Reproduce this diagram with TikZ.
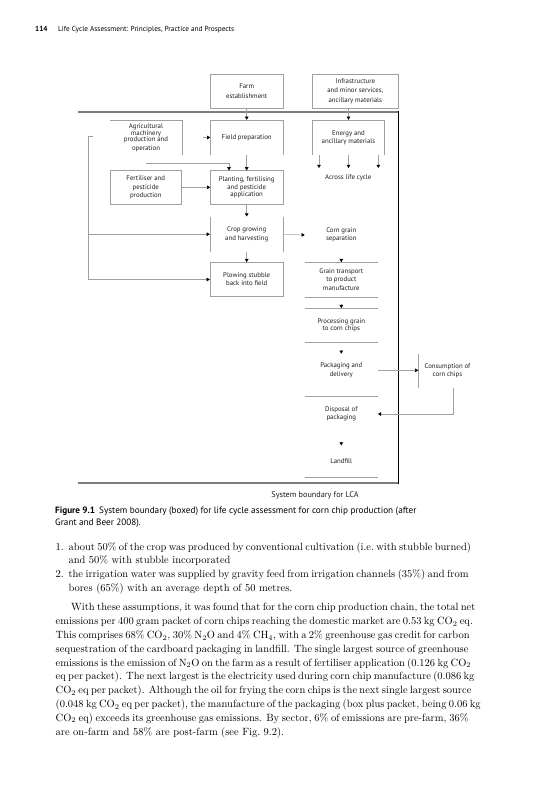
\documentclass[tikz,border=0pt]{standalone}
\usepackage{fontspec}
\newfontfamily\dsans{PT Sans}
\usetikzlibrary{arrows.meta,calc}
\definecolor{lgray}{RGB}{160,160,160}
\definecolor{bgray}{RGB}{125,125,125}
\definecolor{tgray}{RGB}{30,30,30}
\newcommand{\COtwo}{CO\textsubscript{2}}
\begin{document}
\begin{tikzpicture}[x=1pt,y=-1pt,
  lbl/.style={font=\dsans\fontsize{6.8}{8.2}\selectfont, text=tgray, align=center, inner sep=0pt},
  frame/.style={draw=lgray, line width=0.5pt},
  conn/.style={draw=lgray, line width=0.5pt},
  arr/.style={conn, -{Triangle[length=3.2pt,width=3.6pt,color=black,fill=black]}},
  hdr/.style={anchor=base west, inner sep=0pt, font=\dsans\fontsize{7.3}{9}\selectfont},
  capt/.style={anchor=base west, inner sep=0pt, font=\dsans\fontsize{9.2}{12}\selectfont},
  bodyl/.style={anchor=base west, inner sep=0pt, font=\fontsize{10.5}{13.8}\selectfont}
]
\fill[white] (0,0) rectangle (548,800);
\useasboundingbox (0,0) rectangle (548,800);

% running head
\node[hdr, font=\dsans\bfseries\fontsize{7.3}{9}\selectfont] (pgno) at (35,31.5) {114};
\node[hdr] (runhead) at (58,31.5) {Life Cycle Assessment: Principles, Practice and Prospects};

% system boundary
\draw[line width=1.8pt, draw=bgray] (78,112.3) -- (398.3,112.3);
\draw[line width=1.8pt, draw=bgray] (78,482.7) -- (398.3,482.7);
\draw[line width=0.8pt, black] (398.3,111.4) -- (398.3,483.6);

% nodes
\node[lbl, frame, minimum width=73.3pt, minimum height=34.3pt, font=\dsans\fontsize{6.8}{10}\selectfont] (farm) at (246.7,91.2) {Farm\\establishment};
\node[lbl, frame, minimum width=86pt, minimum height=34.3pt, font=\dsans\fontsize{6.8}{9.5}\selectfont] (infra) at (355.3,91.2) {Infrastructure\\and minor services,\\ancillary materials};

\node[lbl, minimum width=72pt, minimum height=35pt] (agri) at (146,137.5) {Agricultural\\[-1.2pt]machinery\\[-1.9pt]production and\\[0.5pt]operation};
\draw[frame] (agri.south east) -- (agri.north east) -- (agri.north west);

\node[lbl, minimum width=72.5pt, minimum height=35pt] (field) at (246.7,137.5) {Field preparation};
\draw[frame] (field.south west) -- (field.north west) -- (field.north east) -- (field.south east);

\node[lbl, minimum width=72pt, minimum height=35pt] (energy) at (348.5,137.5) {Energy and\\ancillary materials};
\draw[frame] (energy.south west) -- (energy.north west) -- (energy.north east) -- (energy.south east);

\node[lbl] (across) at (348.3,177.7) {Across life cycle};

\node[lbl, frame, minimum width=71.7pt, minimum height=33.3pt] (fert) at (145.8,187.3) {Fertiliser and\\pesticide\\production};
\node[lbl, frame, minimum width=72.5pt, minimum height=33.3pt, font=\dsans\fontsize{6.8}{6}\selectfont] (plant) at (246.7,187.3) {Planting, fertilising\\and pesticide\\application};

\node[lbl, minimum width=73.3pt, minimum height=35pt] (crop) at (246.7,234.2) {Crop growing\\and harvesting};
\draw[frame] (crop.north west) -- (crop.south west);
\draw[frame] (crop.north east) -- (crop.south east);

\node[lbl, frame, minimum width=73.3pt, minimum height=34.3pt] (plow) at (246.7,279.5) {Plowing stubble\\back into field};

\node[lbl, minimum width=72.7pt, minimum height=30pt] (corn) at (341.3,235) {Corn grain\\separation};
\node[lbl, minimum width=72.7pt, minimum height=34.4pt] (transport) at (341.3,279.5) {Grain transport\\to product\\manufacture};
\draw[frame] (transport.north west) -- (transport.north east);
\draw[frame] (transport.south west) -- (transport.south east);
\node[lbl, minimum width=72.7pt, minimum height=34.2pt, font=\dsans\fontsize{6.8}{7}\selectfont] (process) at (341.3,325.4) {Processing grain\\to corn chips};
\draw[frame] (process.north west) -- (process.north east);
\draw[frame] (process.south west) -- (process.south east);
\node[lbl, minimum width=72.7pt, minimum height=32.7pt] (pack) at (341.3,370.3) {Packaging and\\delivery};
\node[lbl, minimum width=58pt, minimum height=32.7pt] (cons) at (447.5,371) {Consumption of\\corn chips};
\draw[frame] (cons.north west) -- (cons.south west);
\node[lbl, minimum width=72.7pt, minimum height=34.6pt] (disp) at (341.3,414) {Disposal of\\packaging};
\draw[frame] (disp.north west) -- (disp.north east);
\node[lbl, minimum width=72.7pt, minimum height=31.6pt] (land) at (341.3,461.5) {Landfill};
\draw[frame] (land.south west) -- (land.south east);

\node[lbl, font=\dsans\fontsize{8.2}{9}\selectfont, anchor=base] (sysb) at (315,497.5) {System boundary for LCA};

% connectors
\draw[arr] (farm.south) -- (field.north);
\draw[arr] (energy.north |- infra.south) -- (energy.north);
\draw[arr, shorten <=21pt] (agri.east) -- (field.west);
\draw[arr] ($(agri.south)+(0,7.8)$) -| ($(plant.north west)+(18.8,0)$);
\draw[arr] (field.south) -- (plant.north);
\draw[arr] (fert.east) -- (plant.west);
\coordinate (ac1) at (319,168);
\coordinate (ac2) at (348.5,168);
\coordinate (ac3) at (378.3,168);
\draw[arr] (energy.south -| ac1) -- (ac1);
\draw[arr] (energy.south -| ac2) -- (ac2);
\draw[arr] (energy.south -| ac3) -- (ac3);
\draw[arr] (plant.south) -- (crop.north);
\draw[arr] (crop.south) -- (plow.north);
\draw[arr] (crop.east) -- (corn.west);
\draw[arr, shorten <=8.5pt] (corn.south) -- (transport.north);
\draw[arr, shorten <=7.5pt] (transport.south) -- (process.north);
\draw[arr, shorten <=7.5pt] (process.south) -- (pack.north);
\draw[arr] (pack.east) -- (cons.west |- pack.east);
\draw[arr] ($(cons.south)+(5.8,0)$) |- (disp.east);
\draw[arr, shorten <=10pt] (disp.south) -- (land.north);
\coordinate (fb) at (93,136.7);
\coordinate (fbx) at (88.3,136.7);
\draw[arr] (fb) -- (fbx) |- (plow.west);
\draw[arr] (fbx |- crop.west) -- (crop.west);

% caption
\node[capt, font=\dsans\bfseries\fontsize{9.2}{12}\selectfont] (fig) at (55,513.5) {Figure 9.1};
\node[capt] (cap1) at (99,513.5) {System boundary (boxed) for life cycle assessment for corn chip production (after};
\node[capt] (cap2) at (55,525.5) {Grant and Beer 2008).};

% body text
\node[bodyl] (n1) at (55.5,550) {1.};
\node[bodyl] (i1a) at (68.3,550) {\makebox[400pt][s]{about 50\% of the crop was produced by conventional cultivation (i.e.\ with stubble burned)}};
\node[bodyl] (i1b) at (68.3,563.8) {and 50\% with stubble incorporated};
\node[bodyl] (n2) at (55.5,577.6) {2.};
\node[bodyl] (i2a) at (68.3,577.6) {\makebox[400pt][s]{the irrigation water was supplied by gravity feed from irrigation channels (35\%) and from}};
\node[bodyl] (i2b) at (68.3,591.4) {bores (65\%) with an average depth of 50 metres.};

\node[bodyl] (p1) at (71,610.8) {\makebox[397.3pt][s]{With these assumptions, it was found that for the corn chip production chain, the total net}};
\node[bodyl] (p2) at (55.5,624.6) {\makebox[412.8pt][s]{emissions per 400 gram packet of corn chips reaching the domestic market are 0.53 kg \COtwo{} eq.}};
\node[bodyl] (p3) at (55.5,638.4) {\makebox[412.8pt][s]{This comprises 68\% \COtwo, 30\% N\textsubscript{2}O and 4\% CH\textsubscript{4}, with a 2\% greenhouse gas credit for carbon}};
\node[bodyl] (p4) at (55.5,652.2) {\makebox[412.8pt][s]{sequestration of the cardboard packaging in landfill. The single largest source of greenhouse}};
\node[bodyl] (p5) at (55.5,666) {\makebox[412.8pt][s]{emissions is the emission of N\textsubscript{2}O on the farm as a result of fertiliser application (0.126 kg \COtwo}};
\node[bodyl] (p6) at (55.5,679.8) {\makebox[412.8pt][s]{eq per packet). The next largest is the electricity used during corn chip manufacture (0.086 kg}};
\node[bodyl] (p7) at (55.5,693.6) {\makebox[412.8pt][s]{\COtwo{} eq per packet). Although the oil for frying the corn chips is the next single largest source}};
\node[bodyl] (p8) at (55.5,707.4) {\makebox[412.8pt][s]{(0.048 kg \COtwo{} eq per packet), the manufacture of the packaging (box plus packet, being 0.06 kg}};
\node[bodyl] (p9) at (55.5,721.2) {\makebox[412.8pt][s]{\COtwo{} eq) exceeds its greenhouse gas emissions. By sector, 6\% of emissions are pre-farm, 36\%}};
\node[bodyl] (p10) at (55.5,735) {are on-farm and 58\% are post-farm (see Fig.~9.2).};
\end{tikzpicture}
\end{document}
